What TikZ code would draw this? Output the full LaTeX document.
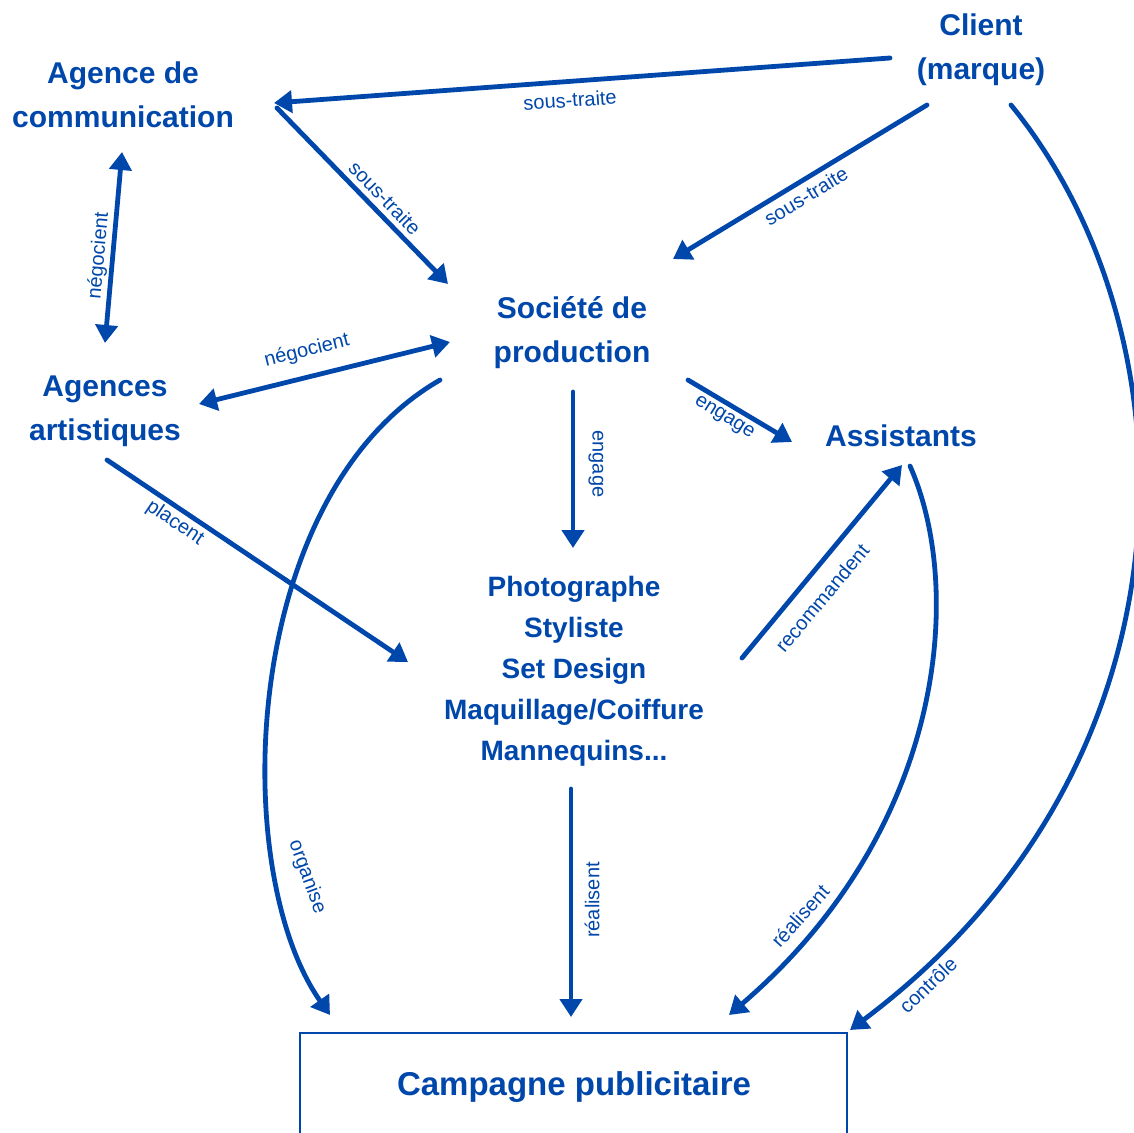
\documentclass[tikz,border=0pt]{standalone}
\usepackage{fontspec}
\setmainfont{Liberation Sans}
\usetikzlibrary{arrows.meta,calc}
\definecolor{cobalt}{RGB}{0,71,171}
\begin{document}
\begin{tikzpicture}[x=0.5pt,y=-0.5pt,
  lbl/.style={text=cobalt,font=\fontsize{15}{22}\selectfont\bfseries,align=center,inner sep=0pt},
  lstlbl/.style={text=cobalt,font=\fontsize{14}{20.5}\selectfont\bfseries,align=center,inner sep=0pt},
  biglbl/.style={text=cobalt,font=\fontsize{16.5}{20}\selectfont\bfseries,align=center,inner sep=0pt},
  elab/.style={text=cobalt,font=\fontsize{10}{12}\selectfont,inner sep=0pt},
  conn/.style={draw=cobalt,line width=2.4pt,line cap=round,-{Triangle[length=9pt,width=11pt]}},
  twoway/.style={draw=cobalt,line width=2.4pt,line cap=round,{Triangle[length=9pt,width=11pt]}-{Triangle[length=9pt,width=11pt]}},
  boxline/.style={draw=cobalt,line width=0.9pt}]
\useasboundingbox (0,0) rectangle (1134,1133);
\fill[white] (0,0) rectangle (1134,1133);

% nodes
\node[lbl] (agence) at (123,95) {Agence de\\communication};
\node[lbl] (client) at (981,50) {Client\\(marque)};
\node[lbl] (societe) at (572,333) {Soci\'et\'e de\\production};
\node[lbl] (agart) at (105,411) {Agences\\artistiques};
\node[lbl] (assist) at (901,436) {Assistants};
\node[lstlbl] (photo) at (574,671) {Photographe\\Styliste\\Set Design\\Maquillage/Coiffure\\Mannequins...};
\node[biglbl] (campagne) at (574,1087) {Campagne publicitaire};
\draw[boxline] (300,1140) -- (300,1033) -- (847,1033) -- (847,1140);

% connectors
\draw[conn] ($(client)+(-91,8)$) -- ($(agence)+(151,8)$);
\draw[conn] ($(client)+(-54,55)$) -- ($(societe)+(101,-74)$);
\draw[conn] ($(client)+(30,55)$) .. controls (1195,330) and (1210,760) .. ($(campagne)+(276,-57)$);
\draw[conn] ($(agence)+(154,13)$) -- ($(societe)+(-124,-49)$);
\draw[twoway] ($(agence)+(-1,57)$) -- ($(agart)+(0,-68)$);
\draw[twoway] ($(agart)+(94,-7)$) -- ($(societe)+(-122,9)$);
\draw[conn] ($(agart)+(2,49)$) -- ($(photo)+(-166,-9)$);
\draw[conn] ($(societe)+(-132,47)$) .. controls (240,495) and (228,870) .. ($(campagne)+(-244,-72)$);
\draw[conn] ($(societe)+(1,59)$) -- ($(photo)+(-1,-123)$);
\draw[conn] ($(societe)+(116,47)$) -- ($(assist)+(-109,6)$);
\draw[conn] ($(photo)+(168,-13)$) -- ($(assist)+(1,29)$);
\draw[conn] ($(photo)+(-3,118)$) -- ($(campagne)+(-3,-70)$);
\draw[conn] ($(assist)+(9,30)$) .. controls (965,590) and (945,830) .. ($(campagne)+(155,-72)$);

% connector labels
\node[elab,rotate=4] (l1) at (570,100) {sous-traite};
\node[elab,rotate=31] (l2) at (806,196) {sous-traite};
\node[elab,rotate=44] (l3) at (928,985) {contr\^ole};
\node[elab,rotate=-46] (l4) at (385,198) {sous-traite};
\node[elab,rotate=85] (l5) at (99,256) {n\'egocient};
\node[elab,rotate=14] (l6) at (307,351) {n\'egocient};
\node[elab,rotate=-34] (l7) at (175,523) {placent};
\node[elab,rotate=-70] (l8) at (307,877) {organise};
\node[elab,rotate=-90] (l9) at (596,464) {engage};
\node[elab,rotate=-32] (l10) at (724,418) {engage};
\node[elab,rotate=50] (l11) at (822,598) {recommandent};
\node[elab,rotate=90] (l12) at (592,900) {r\'ealisent};
\node[elab,rotate=48] (l13) at (800,916) {r\'ealisent};
\end{tikzpicture}
\end{document}
